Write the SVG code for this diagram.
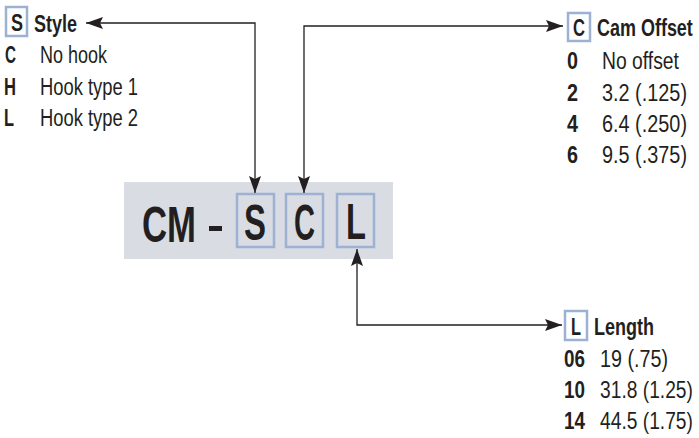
<svg xmlns="http://www.w3.org/2000/svg" width="699" height="438" viewBox="0 0 699 438">
<style>
text{font-family:"Liberation Sans",Arial,sans-serif;fill:#231f20}
.h{font-size:23px;font-weight:700}
.r{font-size:23px}
.box{fill:none;stroke:#9db2d3;stroke-width:2.5}
.big{font-size:50px;font-weight:700}
.c{fill:none;stroke:#231f20;stroke-width:1.3}
</style>
<defs><marker id="a" markerUnits="userSpaceOnUse" markerWidth="18" markerHeight="14" refX="17" refY="7" orient="auto-start-reverse"><path d="M0 1 L17 7 L0 13 L3 7 Z" fill="#231f20"/></marker></defs>
<g id="code">
<rect x="124" y="182" width="269" height="77" fill="#d9dce2"/>
<text class="big" x="142" y="242" textLength="54" lengthAdjust="spacingAndGlyphs">CM</text>
<rect x="209" y="226" width="13" height="5" fill="#231f20"/>
<rect class="box" x="237" y="194" width="37" height="53"/>
<text class="big" x="244" y="240" textLength="22" lengthAdjust="spacingAndGlyphs">S</text>
<rect class="box" x="286" y="194" width="37" height="53"/>
<text class="big" x="294" y="240" textLength="21" lengthAdjust="spacingAndGlyphs">C</text>
<rect class="box" x="337" y="194" width="37" height="53"/>
<text class="big" x="346" y="239" textLength="20" lengthAdjust="spacingAndGlyphs">L</text>
</g>
<g id="connectors">
<path class="c" marker-start="url(#a)" marker-end="url(#a)" d="M86 23 H255 V193"/>
<path class="c" marker-start="url(#a)" marker-end="url(#a)" d="M304 193 V26 H563"/>
<path class="c" marker-start="url(#a)" marker-end="url(#a)" d="M357 249 V325 H562"/>
</g>
<g id="style">
<rect class="box" x="6" y="7" width="21" height="29"/>
<text class="h" x="11" y="31" textLength="12" lengthAdjust="spacingAndGlyphs">S</text>
<text class="h" x="34" y="32" textLength="43" lengthAdjust="spacingAndGlyphs">Style</text>
<text class="h" x="5" y="63" textLength="11" lengthAdjust="spacingAndGlyphs">C</text>
<text class="r" x="40" y="63" textLength="67" lengthAdjust="spacingAndGlyphs">No hook</text>
<text class="h" x="4" y="95" textLength="12" lengthAdjust="spacingAndGlyphs">H</text>
<text class="r" x="40" y="95" textLength="98" lengthAdjust="spacingAndGlyphs">Hook type 1</text>
<text class="h" x="4" y="126" textLength="10" lengthAdjust="spacingAndGlyphs">L</text>
<text class="r" x="40" y="126" textLength="98" lengthAdjust="spacingAndGlyphs">Hook type 2</text>
</g>
<g id="cam-offset">
<rect class="box" x="568" y="13" width="22" height="28"/>
<text class="h" x="573" y="36" textLength="12" lengthAdjust="spacingAndGlyphs">C</text>
<text class="h" transform="translate(597 36) scale(.782 1)">Cam Offset</text>
<text class="h" x="567" y="69" textLength="11" lengthAdjust="spacingAndGlyphs">0</text>
<text class="r" x="602" y="69" textLength="77" lengthAdjust="spacingAndGlyphs">No offset</text>
<text class="h" x="567" y="101" textLength="11" lengthAdjust="spacingAndGlyphs">2</text>
<text class="r" x="602" y="101" textLength="85" lengthAdjust="spacingAndGlyphs">3.2 (.125)</text>
<text class="h" x="567" y="132" textLength="11" lengthAdjust="spacingAndGlyphs">4</text>
<text class="r" x="602" y="132" textLength="85" lengthAdjust="spacingAndGlyphs">6.4 (.250)</text>
<text class="h" x="567" y="163" textLength="11" lengthAdjust="spacingAndGlyphs">6</text>
<text class="r" x="602" y="163" textLength="85" lengthAdjust="spacingAndGlyphs">9.5 (.375)</text>
</g>
<g id="length">
<rect class="box" x="565" y="311" width="22" height="29"/>
<text class="h" x="571" y="335" textLength="10" lengthAdjust="spacingAndGlyphs">L</text>
<text class="h" x="594" y="335" textLength="60" lengthAdjust="spacingAndGlyphs">Length</text>
<text class="h" x="564" y="367" textLength="21" lengthAdjust="spacingAndGlyphs">06</text>
<text class="r" x="600" y="367" textLength="68" lengthAdjust="spacingAndGlyphs">19 (.75)</text>
<text class="h" x="564" y="398" textLength="21" lengthAdjust="spacingAndGlyphs">10</text>
<text class="r" transform="translate(600 398) scale(.836 1)">31.8 (1.25)</text>
<text class="h" x="564" y="429" textLength="21" lengthAdjust="spacingAndGlyphs">14</text>
<text class="r" transform="translate(600 429) scale(.836 1)">44.5 (1.75)</text>
</g>
</svg>
